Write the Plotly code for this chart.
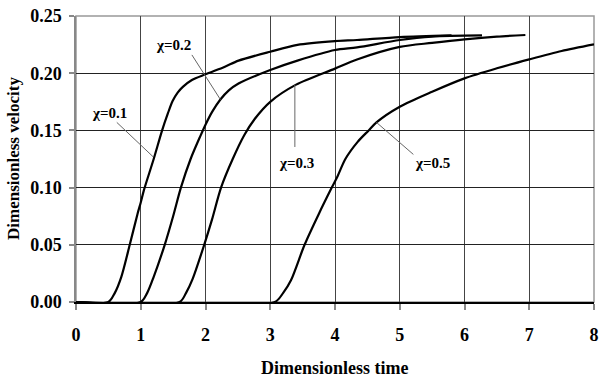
import plotly.graph_objects as go

# Dimensionless velocity vs dimensionless time for four values of chi
t_01 = [0, 0.5, 0.6, 0.7, 0.83, 0.95, 1.0, 1.05, 1.2, 1.33, 1.42, 1.49, 1.57, 1.65, 1.79, 2.0, 2.3, 2.51, 3.0, 3.42, 4.0, 4.34, 5.0, 5.8]
v_01 = [0, 0, 0.008, 0.022, 0.05, 0.077, 0.087, 0.098, 0.125, 0.15, 0.165, 0.1755, 0.183, 0.188, 0.194, 0.199, 0.2057, 0.211, 0.2188, 0.2247, 0.228, 0.229, 0.2315, 0.233]

t_02 = [0, 1.0, 1.1, 1.2, 1.37, 1.5, 1.62, 1.77, 1.92, 2.0, 2.1, 2.23, 2.36, 2.51, 3.0, 3.42, 4.0, 4.34, 5.0, 5.5, 6.27]
v_02 = [0, 0, 0.008, 0.022, 0.05, 0.075, 0.10, 0.125, 0.145, 0.155, 0.166, 0.177, 0.185, 0.191, 0.2028, 0.211, 0.2203, 0.2226, 0.229, 0.232, 0.233]

t_03 = [0, 1.6, 1.7, 1.8, 1.98, 2.1, 2.24, 2.42, 2.6, 2.76, 3.0, 3.4, 4.0, 4.34, 5.0, 5.5, 6.0, 6.5, 6.94]
v_03 = [0, 0, 0.008, 0.02, 0.05, 0.072, 0.10, 0.125, 0.146, 0.16, 0.175, 0.19, 0.204, 0.212, 0.223, 0.2265, 0.2296, 0.232, 0.2334]

t_05 = [0, 3.07, 3.2, 3.32, 3.53, 3.75, 3.95, 4.04, 4.16, 4.35, 4.52, 4.64, 5.0, 5.5, 6.0, 6.5, 7.0, 7.5, 8.0]
v_05 = [0, 0, 0.008, 0.019, 0.05, 0.077, 0.10, 0.11, 0.125, 0.14, 0.15, 0.157, 0.1707, 0.1838, 0.1955, 0.2043, 0.2121, 0.2194, 0.2252]

x_ticks = [0, 1, 2, 3, 4, 5, 6, 7, 8]
y_ticks = [0.00, 0.05, 0.10, 0.15, 0.20, 0.25]

# curve labels: text, label centre (data), leader start (data), leader end (data)
labels = [
    ("χ=0.1", (0.52, 0.165), (0.63, 0.157), (1.19, 0.127)),
    ("χ=0.2", (1.50, 0.2247), (1.79, 0.216), (2.23, 0.177)),
    ("χ=0.3", (3.41, 0.1215), (3.38, 0.190), (3.38, 0.1355)),
    ("χ=0.5", (5.50, 0.1215), (4.64, 0.157), (5.21, 0.129)),
]

serif = "Liberation Serif"

fig = go.Figure()
for t, v in [(t_01, v_01), (t_02, v_02), (t_03, v_03), (t_05, v_05)]:
    fig.add_trace(go.Scatter(
        x=t, y=v, mode="lines",
        line=dict(color="black", width=2.2, shape="spline", smoothing=0.8),
        showlegend=False, hoverinfo="skip",
    ))

for text, (lx, ly), (ax, ay), (bx, by) in labels:
    fig.add_shape(type="line", x0=ax, y0=ay, x1=bx, y1=by,
                  line=dict(color="#666666", width=1), layer="above")
    fig.add_annotation(x=lx, y=ly, text=f"<b>{text}</b>", showarrow=False,
                       font=dict(family=serif, size=15, color="black"))

# plot frame: grey top and right edges
fig.add_shape(type="rect", xref="paper", yref="paper", x0=0, y0=0, x1=1, y1=1,
              line=dict(color="#999999", width=1.5), layer="below")

axis_font = dict(family=serif, size=18, color="black", weight="bold")

fig.update_xaxes(
    range=[0, 8], tickvals=x_ticks, ticktext=[str(v) for v in x_ticks],
    showgrid=True, gridcolor="#444444", gridwidth=1,
    showline=True, linecolor="black", linewidth=2,
    ticks="outside", ticklen=6, tickcolor="#888888", tickwidth=1.5,
    tickfont=axis_font, ticklabelstandoff=9, ticklabeloverflow="allow",
    zeroline=False,
)
fig.update_yaxes(
    range=[0, 0.25], tickvals=y_ticks, ticktext=[f"{v:.2f}" for v in y_ticks],
    showgrid=True, gridcolor="#222222", gridwidth=1,
    showline=True, linecolor="#888888", linewidth=1.5,
    ticks="outside", ticklen=5, tickcolor="#888888", tickwidth=1.5,
    tickfont=axis_font, ticklabelstandoff=4, zeroline=False,
)

fig.add_annotation(xref="paper", yref="paper", x=0.5, y=0, yshift=-66,
                   xanchor="center", yanchor="middle",
                   text="<b>Dimensionless time</b>", showarrow=False,
                   font=dict(family=serif, size=18, color="black"))
fig.add_annotation(xref="paper", yref="paper", x=0, y=0.5, xshift=-63,
                   xanchor="center", yanchor="middle",
                   text="<b>Dimensionless velocity</b>", showarrow=False, textangle=-90,
                   font=dict(family=serif, size=17, color="black"))

fig.update_layout(
    width=602, height=378,
    margin=dict(l=76, r=3, t=16, b=76),
    paper_bgcolor="white", plot_bgcolor="white",
)

fig.write_html("out.html")
